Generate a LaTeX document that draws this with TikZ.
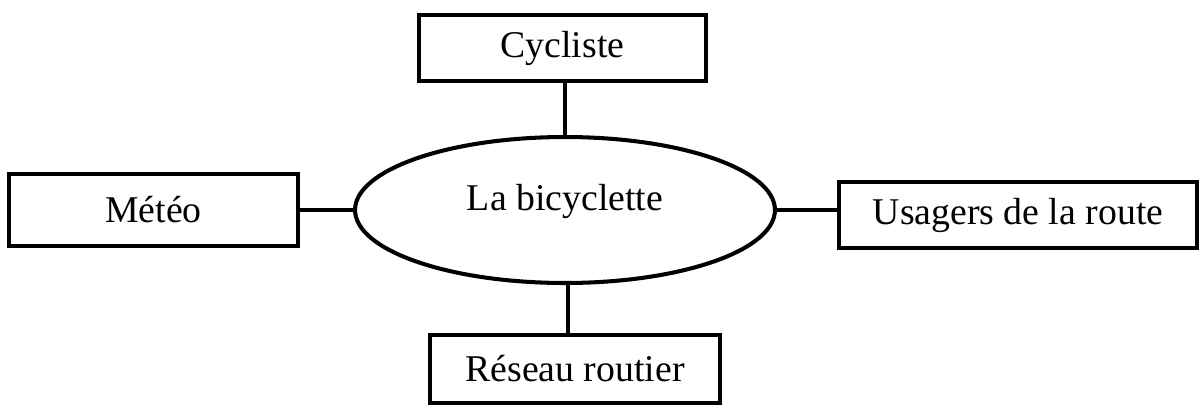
\documentclass[tikz,border=0pt]{standalone}
\usepackage{fontspec}
\setmainfont{Liberation Serif}
\usetikzlibrary{shapes.geometric}
\begin{document}
\begin{tikzpicture}[x=0.02cm, y=-0.02cm, line width=2.3pt,
	boite/.style={draw, rectangle, inner sep=0pt, font=\fontsize{21.5}{25}\selectfont},
	bulle/.style={draw, ellipse, inner sep=0pt, minimum width=8.4cm, minimum height=2.92cm,
		text height=0.7em, text depth=0.7em, font=\fontsize{21.5}{25}\selectfont}]
\useasboundingbox (0,0) rectangle (1201,407);
% Centre
\node[bulle] (velo) at (565,210) {La bicyclette};
% Boites autour
\node[boite, minimum width=5.74cm, minimum height=1.32cm] (cycliste) at (562.5,48) {Cycliste};
\node[boite, minimum width=5.78cm, minimum height=1.44cm] (meteo) at (153.5,210) {Météo};
\node[boite, minimum width=7.16cm, minimum height=1.32cm] (usagers) at (1018,215) {Usagers de la route};
\node[boite, minimum width=5.8cm, minimum height=1.36cm] (reseau) at (575,369) {Réseau routier};
% Liaisons
\draw (velo.north) -- (velo.north |- cycliste.south);
\draw (meteo.east) -- (velo.west);
\draw (velo.east) -- (velo.east -| usagers.west);
\draw (velo.-88) -- (velo.-88 |- reseau.north);
\end{tikzpicture}
\end{document}
